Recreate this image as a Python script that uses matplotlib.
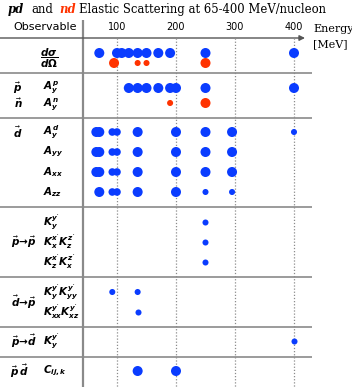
import matplotlib.pyplot as plt

plt.rcParams['mathtext.fontset'] = 'custom'
plt.rcParams['mathtext.it'] = 'DejaVu Sans:italic:bold'
plt.rcParams['mathtext.rm'] = 'DejaVu Sans:bold'
plt.rcParams['mathtext.bf'] = 'DejaVu Sans:bold'

# ---- data: energies (MeV) of the measurements for each observable ----
dsdo_pd = [70, 100, 108, 120, 135, 150, 170, 190, 250, 400]
dsdo_nd = [95, 135, 150, 250]
ay_p = [120, 135, 150, 170, 190, 200, 250, 400]
ay_n = [190, 250]
ay_d = [65, 70, 92, 100, 135, 200, 250, 295, 400]
a_yy = [65, 70, 92, 100, 135, 200, 250, 295]
a_xx = [65, 70, 92, 100, 135, 200, 250, 295]
a_zz = [70, 92, 100, 135, 200, 250, 295]
k_pp1 = [250]
k_pp2 = [250]
k_pp3 = [250]
k_dp1 = [92, 135]
k_dp2 = [135]
k_pd = [400]
c_ijk = [135, 200]
energy_ticks = [100, 200, 300, 400]

# marker size class for each point (L big, M medium, S small)
sz_dsdo_pd = 'LLLLLLLLLL'
sz_dsdo_nd = 'LSSL'
sz_ay_p = 'LLLLLLLL'
sz_ay_n = 'SL'
sz_ay_d = 'LLMMLLLLS'
sz_a_yy = 'LLMMLLLL'
sz_a_xx = 'LLMMLLLL'
sz_a_zz = 'LMMLLSS'

blue = '#0a3cff'
red = '#ff3300'
S = {'L': 52, 'M': 30, 'S': 19}

# rows: (energies, sizes, colour, y pixel)
rows = [
    (dsdo_pd, sz_dsdo_pd, blue, 53),
    (dsdo_nd, sz_dsdo_nd, red, 63),
    (ay_p, sz_ay_p, blue, 88),
    (ay_n, sz_ay_n, red, 103),
    (ay_d, sz_ay_d, blue, 132),
    (a_yy, sz_a_yy, blue, 152),
    (a_xx, sz_a_xx, blue, 172),
    (a_zz, sz_a_zz, blue, 192),
    (k_pp1, 'S', blue, 222),
    (k_pp2, 'S', blue, 242),
    (k_pp3, 'S', blue, 262),
    (k_dp1, 'SS', blue, 292),
    (k_dp2, 'S', blue, 312),
    (k_pd, 'S', blue, 341),
    (c_ijk, 'LL', blue, 371),
]

W, H = 352, 387
fig = plt.figure(figsize=(W / 100, H / 100), dpi=100)
lab = fig.add_axes([0, 0, 1, 1])
lab.set_xlim(0, W)
lab.set_ylim(H, 0)
lab.axis('off')

# energy axes: 100 MeV at x=117px, 0.59 px/MeV
x0, x1 = 83, 312
ax = fig.add_axes([x0 / W, 0, (x1 - x0) / W, 1])
ax.set_xlim((x0 - 58) / 0.59, (x1 - 58) / 0.59)
ax.set_ylim(H, 0)
ax.axis('off')

ax.vlines(energy_ticks, 38, H, colors='#8c8c8c', linestyles=(0, (1, 1.5)), lw=0.9, zorder=1)
for t in energy_ticks:
    ax.text(t, 27, str(t), ha='center', va='center', fontsize=7, family='DejaVu Sans', clip_on=False)

for en, sz, col, y in rows:
    ax.scatter(en, [y] * len(en), s=[S[c] for c in sz], c=col, linewidths=0, zorder=3, clip_on=False)

# frame lines
lab.hlines([73, 118, 207, 277, 327, 357], 0, 312, colors='#8a8a8a', lw=1.2)
lab.vlines(83, 20, H, colors='#8a8a8a', lw=1.6)
lab.annotate('', xy=(305, 38), xytext=(0, 38),
             arrowprops=dict(arrowstyle='-|>', color='#555555', lw=1.0, mutation_scale=8,
                             shrinkA=0, shrinkB=0))

lab.text(45, 27, 'Observable', ha='center', va='center', fontsize=8, family='DejaVu Sans')
lab.text(313, 29, 'Energy', va='center', fontsize=8, family='DejaVu Serif')
lab.text(313, 44, '[MeV]', va='center', fontsize=8, family='DejaVu Serif')

# title, drawn piece by piece
fig.canvas.draw()
r = fig.canvas.get_renderer()
pieces = [('pd', 'black', 'italic', 'bold', 0),
          ('and', 'black', 'normal', 'normal', 7),
          ('nd', red, 'italic', 'bold', 6),
          ('Elastic Scattering at 65-400 MeV/nucleon', 'black', 'normal', 'normal', 3)]
x = 8
for s, col, st, wt, gap in pieces:
    x += gap
    t = lab.text(x, 13, s, color=col, fontstyle=st, fontweight=wt, family='DejaVu Serif',
                 fontsize=8.4, va='baseline')
    x += t.get_window_extent(r).width

# observable labels
fs = 7.5
lab.text(49, 58, r'$\dfrac{d\sigma}{d\Omega}$', ha='center', va='center', fontsize=7.5)
lab.text(18, 88, r'$\vec{p}$', ha='center', va='center', fontsize=fs)
lab.text(18, 103, r'$\vec{n}$', ha='center', va='center', fontsize=fs)
lab.text(18, 132, r'$\vec{d}$', ha='center', va='center', fontsize=fs)
lab.text(24, 242, r'$\vec{p}\!\rightarrow\!\vec{p}$', ha='center', va='center', fontsize=fs)
lab.text(24, 302, r'$\vec{d}\!\rightarrow\!\vec{p}$', ha='center', va='center', fontsize=fs)
lab.text(24, 341, r'$\vec{p}\!\rightarrow\!\vec{d}$', ha='center', va='center', fontsize=fs)
lab.text(19, 371, r'$\vec{p}\,\vec{d}$', ha='center', va='center', fontsize=fs)

obs = [(r'$A_y^p$', 87), (r'$A_y^n$', 104), (r'$A_y^d$', 132), (r'$A_{yy}$', 152),
       (r'$A_{xx}$', 172), (r'$A_{zz}$', 192), (r"$K_y^{y'}$", 222),
       (r"$K_x^{x'}K_z^{z'}$", 242), (r"$K_z^{x'}K_x^{z'}$", 262),
       (r"$K_y^{y'}K_{yy}^{y'}$", 292), (r"$K_{xx}^{y'}K_{xz}^{y'}$", 312),
       (r"$K_y^{y'}$", 341), (r'$C_{ij,k}$', 371)]
for s, y in obs:
    lab.text(43, y, s, va='center', fontsize=fs)

fig.savefig('out.png', dpi=100)
